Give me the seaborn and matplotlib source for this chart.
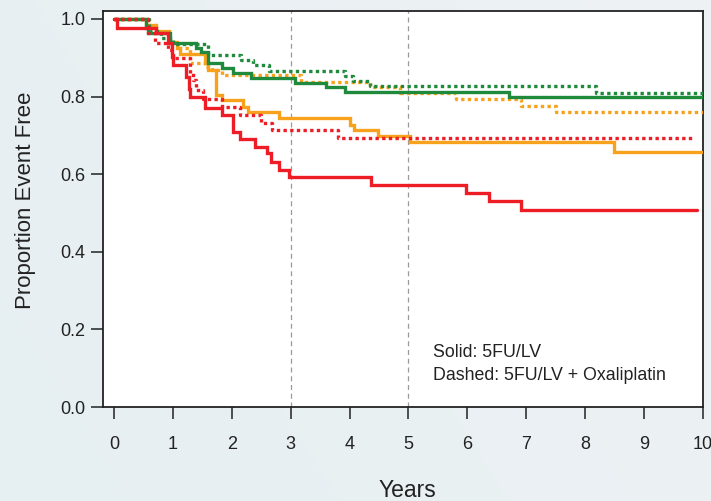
import numpy as np
import pandas as pd
import seaborn as sns
import matplotlib
matplotlib.use('Agg')
import matplotlib.pyplot as plt
from matplotlib.colors import LinearSegmentedColormap

sns.set_style('ticks')
plt.rcParams['font.family'] = ['Liberation Sans', 'DejaVu Sans']

# step curves: value holds from each time onward
low_5fu_t = [0, 0.55, 0.58, 0.95, 1.4, 1.47, 1.6, 1.83, 2.02, 2.33, 3.07, 3.6, 3.92, 6.71, 10]
low_5fu_s = [1.0, 0.977, 0.963, 0.937, 0.924, 0.916, 0.886, 0.873, 0.86, 0.849, 0.836, 0.824, 0.813, 0.798, 0.798]
low_ox_t = [0, 0.6, 0.8, 1.0, 1.6, 2.16, 2.36, 2.64, 3.92, 4.05, 4.34, 8.18, 10]
low_ox_s = [1.0, 0.97, 0.95, 0.935, 0.907, 0.894, 0.881, 0.867, 0.853, 0.841, 0.827, 0.808, 0.808]

mid_5fu_t = [0, 0.55, 0.72, 0.93, 1.07, 1.12, 1.54, 1.6, 1.74, 1.83, 2.19, 2.28, 2.81, 4.0, 4.08, 4.48, 5.02, 8.49, 10]
mid_5fu_s = [1.0, 0.985, 0.97, 0.94, 0.925, 0.911, 0.886, 0.869, 0.804, 0.791, 0.774, 0.761, 0.744, 0.727, 0.714, 0.699, 0.684, 0.658, 0.658]
mid_ox_t = [0, 0.58, 0.72, 0.93, 1.09, 1.29, 1.54, 1.66, 1.83, 3.18, 4.34, 4.85, 5.8, 6.91, 7.5, 10]
mid_ox_s = [1.0, 0.985, 0.967, 0.937, 0.924, 0.886, 0.875, 0.869, 0.856, 0.838, 0.826, 0.808, 0.794, 0.777, 0.761, 0.761]

high_5fu_t = [0, 0.05, 0.72, 0.92, 0.98, 1.0, 1.23, 1.27, 1.29, 1.54, 1.83, 2.02, 2.14, 2.39, 2.59, 2.67, 2.81, 2.98, 4.37, 5.97, 6.36, 6.91, 9.89]
high_5fu_s = [1.0, 0.978, 0.963, 0.938, 0.903, 0.881, 0.851, 0.82, 0.80, 0.770, 0.753, 0.708, 0.690, 0.671, 0.654, 0.632, 0.611, 0.592, 0.572, 0.551, 0.531, 0.509, 0.509]
high_ox_t = [0, 0.58, 0.70, 0.92, 1.0, 1.29, 1.35, 1.4, 1.51, 1.83, 2.14, 2.5, 2.69, 3.8, 9.86]
high_ox_s = [1.0, 0.963, 0.937, 0.92, 0.899, 0.86, 0.843, 0.817, 0.794, 0.772, 0.753, 0.733, 0.714, 0.692, 0.692]

x_ticks = [0, 1, 2, 3, 4, 5, 6, 7, 8, 9, 10]
y_ticks = [0.0, 0.2, 0.4, 0.6, 0.8, 1.0]
marker_years = [3, 5]
note_lines = ['Solid: 5FU/LV', 'Dashed: 5FU/LV + Oxaliplatin']

curves = [
    ('low', '5FU/LV', low_5fu_t, low_5fu_s),
    ('low', '5FU/LV + Oxaliplatin', low_ox_t, low_ox_s),
    ('mid', '5FU/LV', mid_5fu_t, mid_5fu_s),
    ('mid', '5FU/LV + Oxaliplatin', mid_ox_t, mid_ox_s),
    ('high', '5FU/LV', high_5fu_t, high_5fu_s),
    ('high', '5FU/LV + Oxaliplatin', high_ox_t, high_ox_s),
]
frames = []
for grp, arm, t, s in curves:
    frames.append(pd.DataFrame({'years': t, 'surv': s, 'group': grp, 'arm': arm}))
df = pd.concat(frames, ignore_index=True)

fig = plt.figure(figsize=(7.11, 5.01), dpi=100)

# soft background gradient
bg = fig.add_axes([0, 0, 1, 1], zorder=-5)
cmap = LinearSegmentedColormap.from_list('bg', ['#e6eff2', '#eef2f4'])
gx, gy = np.meshgrid(np.linspace(0, 1, 200), np.linspace(0, 1, 200))
bg.imshow(0.7 * gx + 0.3 * gy, cmap=cmap, aspect='auto', origin='lower', extent=[0, 1, 0, 1])
bg.axis('off')

ax = fig.add_axes([103 / 711, 94 / 501, 600 / 711, 396 / 501])
ax.set_facecolor('white')

for yr in marker_years:
    ax.axvline(yr, color='#9a9a9a', lw=0.9, ls=(0, (4, 3)), zorder=1)

palette = {'low': '#1f8a3c', 'mid': '#f8a11c', 'high': '#ee1c25'}
sns.lineplot(data=df, x='years', y='surv', hue='group', style='arm',
             hue_order=['mid', 'low', 'high'], palette=palette,
             style_order=['5FU/LV', '5FU/LV + Oxaliplatin'],
             dashes={'5FU/LV': '', '5FU/LV + Oxaliplatin': (1, 1)},
             estimator=None, sort=False, drawstyle='steps-post',
             lw=2.4, legend=False, ax=ax, zorder=3)
for ln in ax.get_lines():
    ln.set_dash_capstyle('butt')
    ln.set_solid_joinstyle('miter')

ax.set_xlim(-0.186, 10)
ax.set_ylim(0, 1.0206)
ax.set_xticks(x_ticks)
ax.set_yticks(y_ticks)
ax.set_yticklabels(['{:.1f}'.format(v) for v in y_ticks])

for sp in ax.spines.values():
    sp.set_linewidth(1.3)
    sp.set_color('#222222')
ax.tick_params(axis='x', length=8.6, width=1.1, pad=12.5, labelsize=13, colors='#222222')
ax.tick_params(axis='y', length=9, width=1.1, pad=3.5, labelsize=13, colors='#222222')

ax.set_xlabel('Years', fontsize=16.5, color='#222222')
ax.set_ylabel('Proportion Event Free', fontsize=16, color='#222222')
ax.xaxis.set_label_coords(0.508, -0.182)
ax.yaxis.set_label_coords(-0.112, 0.523)

ax.text(0.55, 0.126, note_lines[0], transform=ax.transAxes, fontsize=12.8,
        va='baseline', ha='left', color='#222222')
ax.text(0.55, 0.068, note_lines[1], transform=ax.transAxes, fontsize=12.8,
        va='baseline', ha='left', color='#222222')

plt.savefig('out.png', dpi=100)
plt.close()
